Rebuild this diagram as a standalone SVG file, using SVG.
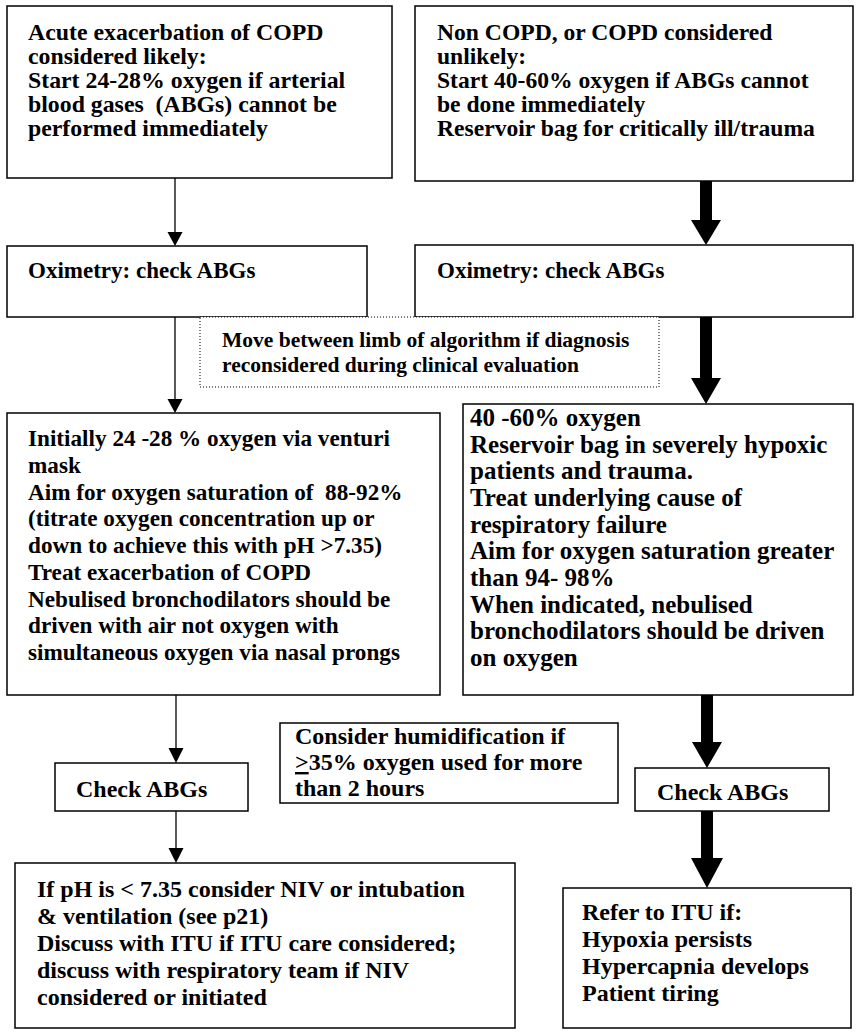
<svg xmlns="http://www.w3.org/2000/svg" width="856" height="1032" viewBox="0 0 856 1032">
<style>
.box{fill:#fff;stroke:#000;stroke-width:1.5}
.dot{fill:#fff;stroke:#000;stroke-width:1;stroke-dasharray:1 2}
.t{font-family:"Liberation Serif","Times New Roman",serif;font-weight:bold;fill:#000;white-space:pre}
.thin{stroke:#000;stroke-width:1.3;fill:none}
.head{fill:#000}
</style>
<rect width="856" height="1032" fill="#fff"/>
<g id="connectors">
<line class="thin" x1="175" y1="178" x2="175" y2="234"/>
<polygon class="head" points="167.5,232 182.5,232 175,246"/>
<line class="thin" x1="175" y1="317" x2="175" y2="401"/>
<polygon class="head" points="167.5,399 182.5,399 175,413"/>
<line class="thin" x1="176" y1="695" x2="176" y2="750"/>
<polygon class="head" points="168.5,748 183.5,748 176,763"/>
<line class="thin" x1="176" y1="811" x2="176" y2="850"/>
<polygon class="head" points="168.5,848 183.5,848 176,863"/>
<polygon class="head" points="700,181 712,181 712,220 721,220 706,245 691,220 700,220"/>
<polygon class="head" points="700,317 712,317 712,378 721,378 706,404 691,378 700,378"/>
<polygon class="head" points="701,695 713,695 713,742 722,742 707,768 692,742 701,742"/>
<polygon class="head" points="701,811 713,811 713,858 723,858 707,888 691,858 701,858"/>
</g>
<g id="n1">
<rect class="box" x="7" y="6" width="385" height="172"/>
<text class="t" font-size="23.8" x="28" y="40"><tspan x="28">Acute exacerbation of COPD</tspan><tspan x="28" dy="24">considered likely:</tspan><tspan x="28" dy="24">Start 24-28% oxygen if arterial</tspan><tspan x="28" dy="24">blood gases  (ABGs) cannot be</tspan><tspan x="28" dy="24">performed immediately</tspan></text>
</g>
<g id="n2">
<rect class="box" x="415" y="6" width="438" height="175"/>
<text class="t" font-size="23.6" x="437" y="40"><tspan x="437">Non COPD, or COPD considered</tspan><tspan x="437" dy="24">unlikely:</tspan><tspan x="437" dy="24">Start 40-60% oxygen if ABGs cannot</tspan><tspan x="437" dy="24">be done immediately</tspan><tspan x="437" dy="24">Reservoir bag for critically ill/trauma</tspan></text>
</g>
<g id="n3">
<rect class="box" x="7" y="246" width="360" height="71"/>
<text class="t" font-size="23" x="28" y="278">Oximetry: check ABGs</text>
</g>
<g id="n4">
<rect class="box" x="415" y="245" width="438" height="72"/>
<text class="t" font-size="23" x="437" y="278">Oximetry: check ABGs</text>
</g>
<g id="n5">
<rect class="dot" x="200" y="317" width="459" height="70"/>
<text class="t" font-size="21.5" x="222" y="347"><tspan x="222">Move between limb of algorithm if diagnosis</tspan><tspan x="222" dy="25">reconsidered during clinical evaluation</tspan></text>
</g>
<g id="n6">
<rect class="box" x="7" y="413" width="433" height="282"/>
<text class="t" font-size="23.2" x="28" y="446"><tspan x="28">Initially 24 -28 % oxygen via venturi</tspan><tspan x="28" dy="26.75">mask</tspan><tspan x="28" dy="26.75">Aim for oxygen saturation of  88-92%</tspan><tspan x="28" dy="26.75">(titrate oxygen concentration up or</tspan><tspan x="28" dy="26.75">down to achieve this with pH &gt;7.35)</tspan><tspan x="28" dy="26.75">Treat exacerbation of COPD</tspan><tspan x="28" dy="26.75">Nebulised bronchodilators should be</tspan><tspan x="28" dy="26.75">driven with air not oxygen with</tspan><tspan x="28" dy="26.75">simultaneous oxygen via nasal prongs</tspan></text>
</g>
<g id="n7">
<rect class="box" x="463" y="404" width="390" height="291"/>
<text class="t" font-size="25" x="470" y="426"><tspan x="470">40 -60% oxygen</tspan><tspan x="470" dy="26.67">Reservoir bag in severely hypoxic</tspan><tspan x="470" dy="26.67">patients and trauma.</tspan><tspan x="470" dy="26.67">Treat underlying cause of</tspan><tspan x="470" dy="26.67">respiratory failure</tspan><tspan x="470" dy="26.67">Aim for oxygen saturation greater</tspan><tspan x="470" dy="26.67">than 94- 98%</tspan><tspan x="470" dy="26.67">When indicated, nebulised</tspan><tspan x="470" dy="26.67">bronchodilators should be driven</tspan><tspan x="470" dy="26.67">on oxygen</tspan></text>
</g>
<g id="n8">
<rect class="box" x="280" y="723" width="338" height="80" stroke-width="2.2"/>
<text class="t" font-size="24" x="295" y="744"><tspan x="295">Consider humidification if</tspan><tspan x="295" dy="26"><tspan text-decoration="underline">&gt;</tspan>35% oxygen used for more</tspan><tspan x="295" dy="26">than 2 hours</tspan></text>
</g>
<g id="n9">
<rect class="box" x="55" y="763" width="193" height="48"/>
<text class="t" font-size="24" x="76" y="797">Check ABGs</text>
</g>
<g id="n10">
<rect class="box" x="635" y="768" width="194" height="43"/>
<text class="t" font-size="24" x="657" y="800">Check ABGs</text>
</g>
<g id="n11">
<rect class="box" x="15" y="863" width="500" height="165"/>
<text class="t" font-size="24" x="37" y="897"><tspan x="37">If pH is &lt; 7.35 consider NIV or intubation</tspan><tspan x="37" dy="27">&amp; ventilation (see p21)</tspan><tspan x="37" dy="27">Discuss with ITU if ITU care considered;</tspan><tspan x="37" dy="27">discuss with respiratory team if NIV</tspan><tspan x="37" dy="27">considered or initiated</tspan></text>
</g>
<g id="n12">
<rect class="box" x="563" y="888" width="288" height="140"/>
<text class="t" font-size="24" x="582" y="920"><tspan x="582">Refer to ITU if:</tspan><tspan x="582" dy="27">Hypoxia persists</tspan><tspan x="582" dy="27">Hypercapnia develops</tspan><tspan x="582" dy="27">Patient tiring</tspan></text>
</g>
</svg>
